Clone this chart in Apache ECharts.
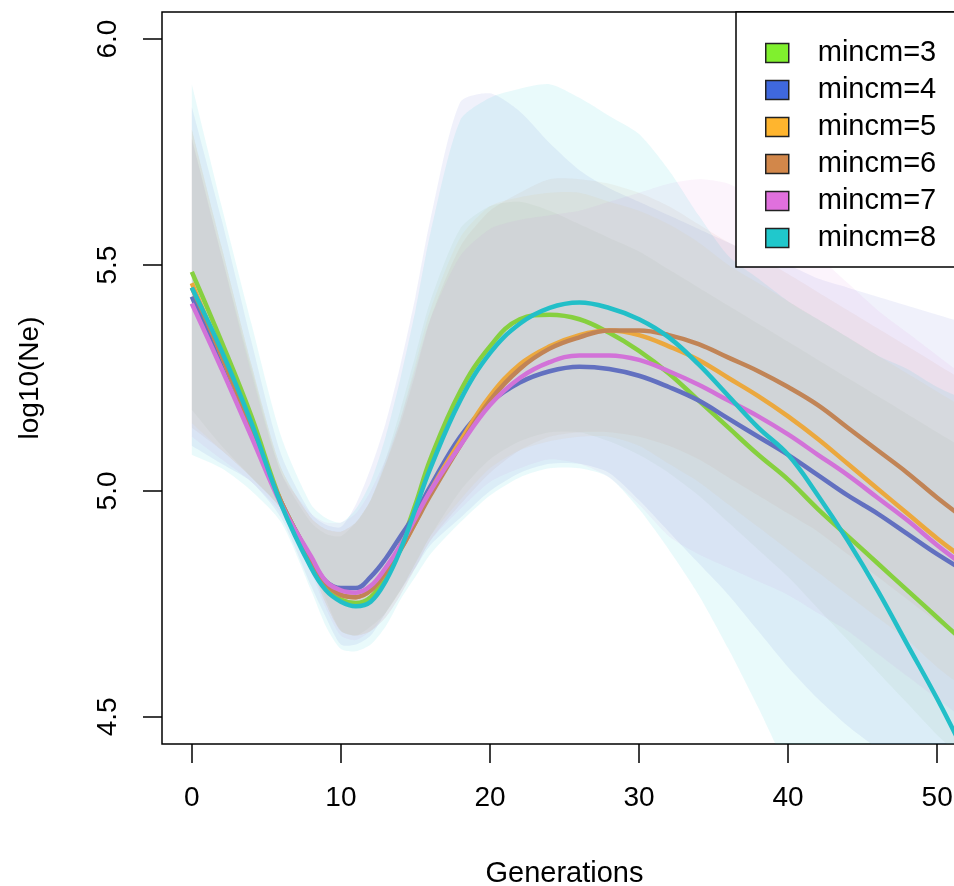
<!DOCTYPE html>
<html><head><meta charset="utf-8">
<script src="https://cdn.jsdelivr.net/npm/echarts@6/dist/echarts.min.js"></script>
<style>html,body{margin:0;padding:0;background:#fff}#c{width:954px;height:886px}</style>
</head><body><div id="c"></div>
<script>
const generations = [0,2,4,6,8,9,10,11,12,13,14,15,16,18,20,22,24,26,28,30,32,34,36,38,40,42,44,46,48,50,52];
const seriesNames = ['mincm=3','mincm=4','mincm=5','mincm=6','mincm=7','mincm=8'];
const xTicks = [0,10,20,30,40,50];
const yTicks = [4.5,5.0,5.5,6.0];

const mean_m3 = [5.485,5.33,5.165,4.975,4.84,4.785,4.76,4.752,4.765,4.81,4.88,4.97,5.07,5.22,5.32,5.38,5.39,5.38,5.35,5.31,5.26,5.20,5.14,5.08,5.025,4.96,4.90,4.84,4.78,4.72,4.66];
const mean_m4 = [5.43,5.28,5.13,4.975,4.85,4.80,4.785,4.785,4.81,4.85,4.90,4.95,5.01,5.12,5.195,5.24,5.265,5.275,5.27,5.255,5.23,5.20,5.16,5.12,5.08,5.035,4.99,4.95,4.905,4.86,4.82];
const mean_m5 = [5.46,5.30,5.14,4.975,4.85,4.795,4.77,4.765,4.78,4.82,4.87,4.93,5.00,5.11,5.21,5.28,5.32,5.345,5.355,5.345,5.32,5.29,5.25,5.21,5.165,5.115,5.06,5.005,4.95,4.895,4.845];
const mean_m6 = [5.45,5.30,5.14,4.975,4.85,4.795,4.77,4.765,4.78,4.82,4.87,4.93,4.99,5.10,5.20,5.27,5.315,5.34,5.355,5.355,5.345,5.325,5.295,5.265,5.23,5.19,5.14,5.09,5.04,4.985,4.935];
const mean_m7 = [5.415,5.27,5.12,4.97,4.855,4.80,4.78,4.775,4.79,4.83,4.88,4.94,5.00,5.10,5.19,5.25,5.285,5.30,5.30,5.29,5.265,5.235,5.20,5.165,5.125,5.08,5.035,4.985,4.935,4.88,4.83];
const mean_m8 = [5.45,5.31,5.15,4.97,4.83,4.78,4.755,4.745,4.755,4.80,4.87,4.96,5.05,5.20,5.305,5.37,5.405,5.417,5.405,5.38,5.34,5.28,5.21,5.14,5.08,4.99,4.89,4.78,4.66,4.54,4.41];

const upper_m3 = [5.78,5.52,5.27,5.04,4.93,4.905,4.90,4.93,4.98,5.07,5.18,5.30,5.42,5.58,5.63,5.64,5.62,5.59,5.56,5.53,5.49,5.45,5.41,5.37,5.33,5.29,5.25,5.21,5.17,5.13,5.09];
const lower_m3 = [5.18,5.10,5.03,4.96,4.84,4.76,4.69,4.68,4.70,4.73,4.78,4.84,4.90,5.00,5.07,5.11,5.13,5.13,5.11,5.08,5.04,4.99,4.93,4.87,4.81,4.74,4.67,4.60,4.53,4.46,4.40];
const upper_m4 = [5.85,5.60,5.33,5.08,4.95,4.925,4.92,4.97,5.05,5.15,5.28,5.43,5.60,5.86,5.88,5.84,5.77,5.71,5.67,5.64,5.61,5.58,5.55,5.52,5.50,5.47,5.45,5.43,5.41,5.39,5.37];
const lower_m4 = [5.10,5.06,5.02,4.94,4.79,4.72,4.66,4.66,4.68,4.73,4.78,4.83,4.88,4.94,5.00,5.04,5.06,5.06,5.04,4.98,4.91,4.84,4.77,4.69,4.61,4.54,4.48,4.43,4.38,4.33,4.28];
const upper_m5 = [5.80,5.54,5.28,5.05,4.94,4.915,4.91,4.93,4.98,5.06,5.16,5.28,5.40,5.56,5.63,5.65,5.66,5.66,5.64,5.62,5.59,5.55,5.50,5.46,5.42,5.38,5.34,5.30,5.26,5.22,5.18];
const lower_m5 = [5.15,5.09,5.03,4.96,4.83,4.75,4.69,4.68,4.69,4.73,4.78,4.84,4.90,4.98,5.05,5.09,5.11,5.12,5.12,5.10,5.06,5.02,4.97,4.92,4.87,4.82,4.77,4.72,4.67,4.61,4.56];
const upper_m6 = [5.80,5.54,5.28,5.05,4.94,4.915,4.91,4.93,4.98,5.06,5.15,5.26,5.38,5.54,5.62,5.66,5.69,5.69,5.68,5.66,5.63,5.59,5.55,5.52,5.48,5.44,5.40,5.36,5.32,5.28,5.24];
const lower_m6 = [5.14,5.09,5.03,4.96,4.83,4.75,4.69,4.68,4.69,4.72,4.77,4.83,4.89,4.97,5.04,5.09,5.12,5.13,5.13,5.12,5.10,5.07,5.03,4.99,4.95,4.91,4.86,4.81,4.76,4.71,4.66];
const upper_m7 = [5.78,5.52,5.26,5.04,4.95,4.93,4.93,4.95,5.00,5.07,5.16,5.27,5.38,5.52,5.58,5.60,5.61,5.62,5.64,5.66,5.68,5.69,5.68,5.64,5.58,5.52,5.46,5.40,5.35,5.30,5.25];
const lower_m7 = [5.12,5.07,5.02,4.95,4.82,4.74,4.68,4.67,4.69,4.72,4.77,4.83,4.89,4.96,5.02,5.05,5.07,5.06,5.03,4.97,4.90,4.86,4.83,4.80,4.77,4.73,4.69,4.64,4.59,4.54,4.49];
const upper_m8 = [5.90,5.63,5.37,5.12,4.97,4.94,4.93,4.96,5.02,5.12,5.25,5.40,5.57,5.82,5.87,5.89,5.90,5.87,5.83,5.79,5.71,5.61,5.52,5.47,5.42,5.38,5.34,5.30,5.27,5.23,5.20];
const lower_m8 = [5.08,5.05,5.00,4.93,4.78,4.70,4.65,4.645,4.66,4.70,4.76,4.81,4.86,4.93,4.99,5.03,5.05,5.05,5.03,4.96,4.87,4.77,4.65,4.52,4.38,4.24,4.10,3.96,3.82,3.68,3.54];

const lineColors = ['#86D03F','#6270C0','#EBA83E','#C18456','#D272D8','#22BFC8'];
const keyColors  = ['#80F02E','#3F68DE','#FFB52E','#D2874A','#E070DD','#20C8CC'];
const bandColors = ['rgba(150,185,105,0.08)','rgba(80,95,205,0.085)','rgba(240,180,70,0.075)','rgba(195,135,85,0.075)','rgba(218,112,214,0.08)','rgba(0,200,205,0.085)'];

const means = [mean_m3,mean_m4,mean_m5,mean_m6,mean_m7,mean_m8];
const uppers = [upper_m3,upper_m4,upper_m5,upper_m6,upper_m7,upper_m8];
const lowers = [lower_m3,lower_m4,lower_m5,lower_m6,lower_m7,lower_m8];

const FONT = '"Liberation Sans", Arial, Helvetica, sans-serif';
const series = [];
seriesNames.forEach((n,i)=>{
  series.push({type:'custom', name:'band'+i, silent:true, z:1, clip:true,
    data: generations.map((x,j)=>[x, lowers[i][j], uppers[i][j]]),
    encode:{x:0, y:[1,2]},
    renderItem:function(params, api){
      if (params.dataIndex !== 0) return null;
      const up = generations.map((x,j)=>api.coord([x, uppers[i][j]]));
      const lo = generations.map((x,j)=>api.coord([x, lowers[i][j]])).reverse();
      // repeat end vertices so the smoothed outline keeps straight end edges
      const pts = [up[0]].concat(up, [up[up.length-1]], [lo[0]], lo, [lo[lo.length-1]]);
      return {type:'polygon', shape:{points: pts, smooth:0.25}, style:{fill:bandColors[i], stroke:null}};
    }});
});
seriesNames.forEach((n,i)=>{
  series.push({type:'line', name:n, z:3, smooth:0.4, symbol:'none',
    data: generations.map((x,j)=>[x, means[i][j]]),
    lineStyle:{color:lineColors[i], width:4.5}, itemStyle:{color:keyColors[i]}});
});

const chart = echarts.init(document.getElementById('c'));
chart.setOption({
  animation:false,
  backgroundColor:'#fff',
  textStyle:{fontFamily:FONT},
  grid:{left:162, top:12, width:805, height:732, show:true, borderColor:'#000', borderWidth:1.5,
    backgroundColor:'transparent', containLabel:false, outerBoundsMode:'none'},
  xAxis:{type:'value', min:-2, max:52,
    axisLine:{show:false, onZero:false}, splitLine:{show:false},
    axisTick:{show:true, length:19, customValues:xTicks, lineStyle:{color:'#000', width:1.5}},
    axisLabel:{customValues:xTicks, fontSize:28, color:'#000', margin:40, fontFamily:FONT},
    name:'Generations', nameLocation:'middle', nameGap:115,
    nameTextStyle:{fontSize:29, color:'#000', fontFamily:FONT}},
  yAxis:{type:'value', min:4.44, max:6.06,
    axisLine:{show:false, onZero:false}, splitLine:{show:false},
    axisTick:{show:true, length:19, customValues:yTicks, lineStyle:{color:'#000', width:1.5}},
    axisLabel:{customValues:yTicks, fontSize:28, color:'#000', rotate:90, margin:40, fontFamily:FONT,
      formatter:v=>Number(v).toFixed(1)},
    name:'log10(Ne)', nameLocation:'middle', nameGap:118, nameRotate:90,
    nameTextStyle:{fontSize:28, color:'#000', fontFamily:FONT}},
  legend:{orient:'vertical', left:736, top:12, padding:[26,80,14,29],
    backgroundColor:'#fff', borderColor:'#000', borderWidth:1.5, borderRadius:0,
    itemWidth:23, itemHeight:19, itemGap:7,
    selectedMode:false,
    textStyle:{fontSize:29, color:'#000', fontFamily:FONT, padding:[0,0,0,24], lineHeight:30},
    data: seriesNames.map((n,i)=>({name:n, icon:'rect', itemStyle:{color:keyColors[i], borderColor:'#222', borderWidth:1.5}}))
  },
  series: series
});
</script>
</body></html>
